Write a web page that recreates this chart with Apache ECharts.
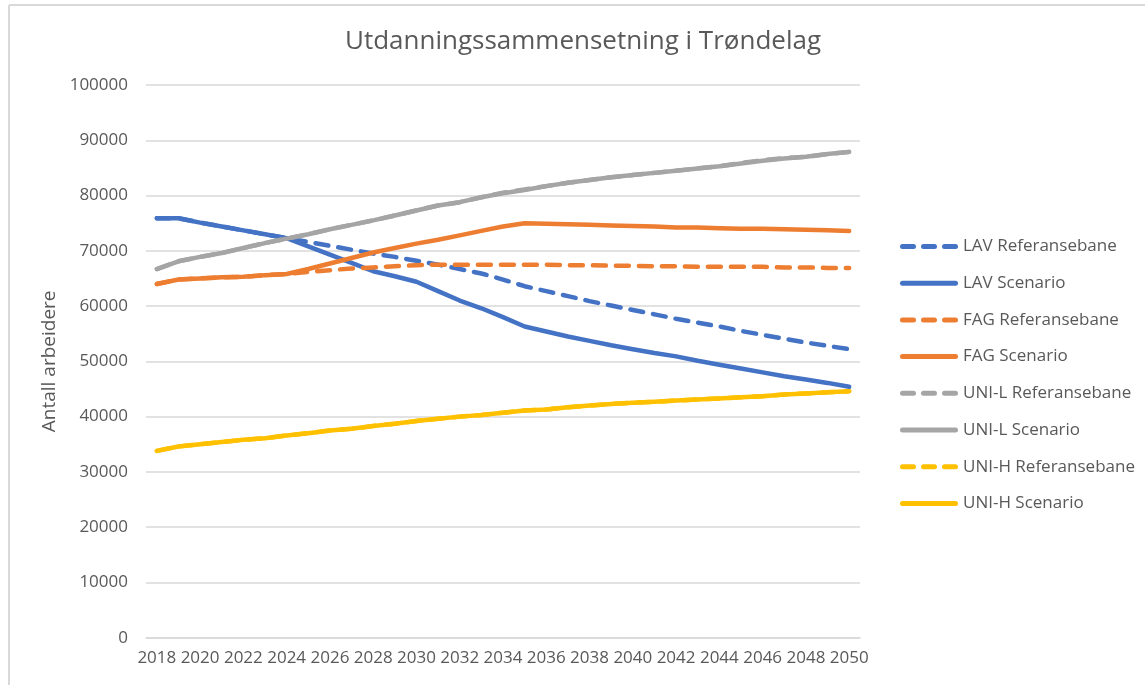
<!DOCTYPE html>
<html>
<head>
<meta charset="utf-8">
<script src="https://cdn.jsdelivr.net/npm/echarts@6/dist/echarts.min.js"></script>
<style>
html,body{margin:0;padding:0;background:#fff;}
#chart{width:1145px;height:685px;}
</style>
</head>
<body>
<div id="chart"></div>
<script>
const years = ["2018","2019","2020","2021","2022","2023","2024","2025","2026","2027","2028","2029","2030","2031","2032","2033","2034","2035","2036","2037","2038","2039","2040","2041","2042","2043","2044","2045","2046","2047","2048","2049","2050"];

const lavRef  = [75900,75900,75100,74400,73700,73000,72300,71600,70900,70200,69500,68900,68200,67500,66700,65900,64800,63600,62700,61800,60900,60100,59300,58500,57700,57000,56300,55500,54800,54100,53400,52800,52200];
const lavScen = [75900,75900,75100,74400,73700,73000,72300,70800,69300,67800,66300,65400,64400,62700,61000,59600,58000,56300,55400,54500,53700,52900,52200,51500,50900,50100,49400,48700,48000,47300,46700,46100,45400];
const fagRef  = [64000,64800,65000,65200,65300,65600,65800,66200,66500,66800,67000,67200,67400,67500,67500,67500,67500,67500,67500,67400,67400,67300,67300,67200,67200,67100,67100,67100,67100,67000,67000,66900,66900];
const fagScen = [64000,64800,65000,65200,65300,65600,65800,66700,67700,68700,69700,70500,71300,72000,72800,73600,74400,75000,74900,74800,74700,74600,74500,74400,74200,74200,74100,74000,74000,73900,73800,73700,73600];
const unilRef = [66700,68100,68900,69600,70500,71400,72200,73000,73900,74700,75500,76400,77300,78200,78800,79700,80500,81100,81700,82300,82800,83300,83700,84100,84500,84900,85300,85900,86400,86800,87000,87500,87900];
const unilScen= [66700,68100,68900,69600,70500,71400,72200,73000,73900,74700,75500,76400,77300,78200,78800,79700,80400,81000,81700,82300,82800,83300,83700,84100,84500,84900,85300,85800,86300,86700,87000,87500,87900];
const unihRef = [33800,34600,35000,35400,35800,36100,36600,37000,37500,37800,38300,38700,39200,39600,40000,40300,40700,41100,41300,41700,42000,42300,42500,42700,42900,43100,43300,43500,43700,44000,44200,44400,44600];
const unihScen= [33800,34600,35000,35400,35800,36100,36600,37000,37500,37800,38300,38700,39200,39600,40000,40300,40700,41100,41300,41700,42000,42300,42500,42700,42900,43100,43300,43500,43700,44000,44200,44400,44600];

const yTicks = [0,10000,20000,30000,40000,50000,60000,70000,80000,90000,100000];
const seriesNames = ['LAV Referansebane','LAV Scenario','FAG Referansebane','FAG Scenario','UNI-L Referansebane','UNI-L Scenario','UNI-H Referansebane','UNI-H Scenario'];

const BLUE='#4472C4', ORANGE='#ED7D31', GRAY='#A5A5A5', YELLOW='#FFC000';
const FONT = 'Open Sans';
const TXT = '#595959';
const DASH_ICON = 'path://M2.5,0 h11 a2.5,2.5 0 0 1 0,5 h-11 a2.5,2.5 0 0 1 0,-5 Z M23.5,0 h11 a2.5,2.5 0 0 1 0,5 h-11 a2.5,2.5 0 0 1 0,-5 Z M44.5,0 h11 a2.5,2.5 0 0 1 0,5 h-11 a2.5,2.5 0 0 1 0,-5 Z';
const SOLID_ICON = 'path://M2.5,0 h53 a2.5,2.5 0 0 1 0,5 h-53 a2.5,2.5 0 0 1 0,-5 Z';

function mk(name, data, color, dashed){
  return {
    name: name, type:'line', data: data, symbol:'none', showSymbol:false,
    lineStyle:{color:color, width:4.5, type: dashed ? [13,10] : 'solid', cap:'round', join:'round'},
    itemStyle:{color:color},
    emphasis:{disabled:true},
    animation:false
  };
}

const chart = echarts.init(document.getElementById('chart'), null, {renderer:'canvas'});
chart.setOption({
  backgroundColor:'#ffffff',
  animation:false,
  title:{
    text:'Utdanningssammensetning i Trøndelag',
    left:578, top:24, textAlign:'center',
    textStyle:{fontFamily:FONT, fontSize:26, fontWeight:'normal', color:TXT}
  },
  graphic:[
    {type:'line', shape:{x1:9,y1:5,x2:1145,y2:5}, style:{stroke:'#d9d9d9', lineWidth:2}, silent:true},
    {type:'line', shape:{x1:9,y1:5,x2:9,y2:685}, style:{stroke:'#d9d9d9', lineWidth:2}, silent:true}
  ],
  legend:{
    orient:'vertical', left:895, top:233,
    itemWidth:58, itemHeight:5, itemGap:19.7,
    textStyle:{fontFamily:FONT, fontSize:17, color:TXT, lineHeight:17},
    data: seriesNames.map((n,i) => ({name:n, icon: (i%2===0) ? DASH_ICON : SOLID_ICON}))
  },
  grid:{left:146, right:1145-860, top:85, bottom:685-637.7, containLabel:false},
  xAxis:{
    type:'category', data:years, boundaryGap:true,
    axisLine:{show:true, lineStyle:{color:'#d9d9d9', width:1.5}},
    axisTick:{show:false},
    axisLabel:{interval:1, fontFamily:FONT, fontSize:17, color:TXT, margin:12}
  },
  yAxis:{
    type:'value', min:yTicks[0], max:yTicks[yTicks.length-1], interval:10000,
    name:'Antall arbeidere', nameLocation:'middle', nameRotate:90, nameGap:82,
    nameTextStyle:{fontFamily:FONT, fontSize:19, color:TXT},
    axisLine:{show:false}, axisTick:{show:false},
    splitLine:{lineStyle:{color:'#d9d9d9', width:1.5}},
    axisLabel:{fontFamily:FONT, fontSize:17, color:TXT, margin:18, formatter: v => String(v)}
  },
  series:[
    mk(seriesNames[0], lavRef, BLUE, true),
    mk(seriesNames[1], lavScen, BLUE, false),
    mk(seriesNames[2], fagRef, ORANGE, true),
    mk(seriesNames[3], fagScen, ORANGE, false),
    mk(seriesNames[4], unilRef, GRAY, true),
    mk(seriesNames[5], unilScen, GRAY, false),
    mk(seriesNames[6], unihRef, YELLOW, true),
    mk(seriesNames[7], unihScen, YELLOW, false)
  ]
});
</script>
</body>
</html>
